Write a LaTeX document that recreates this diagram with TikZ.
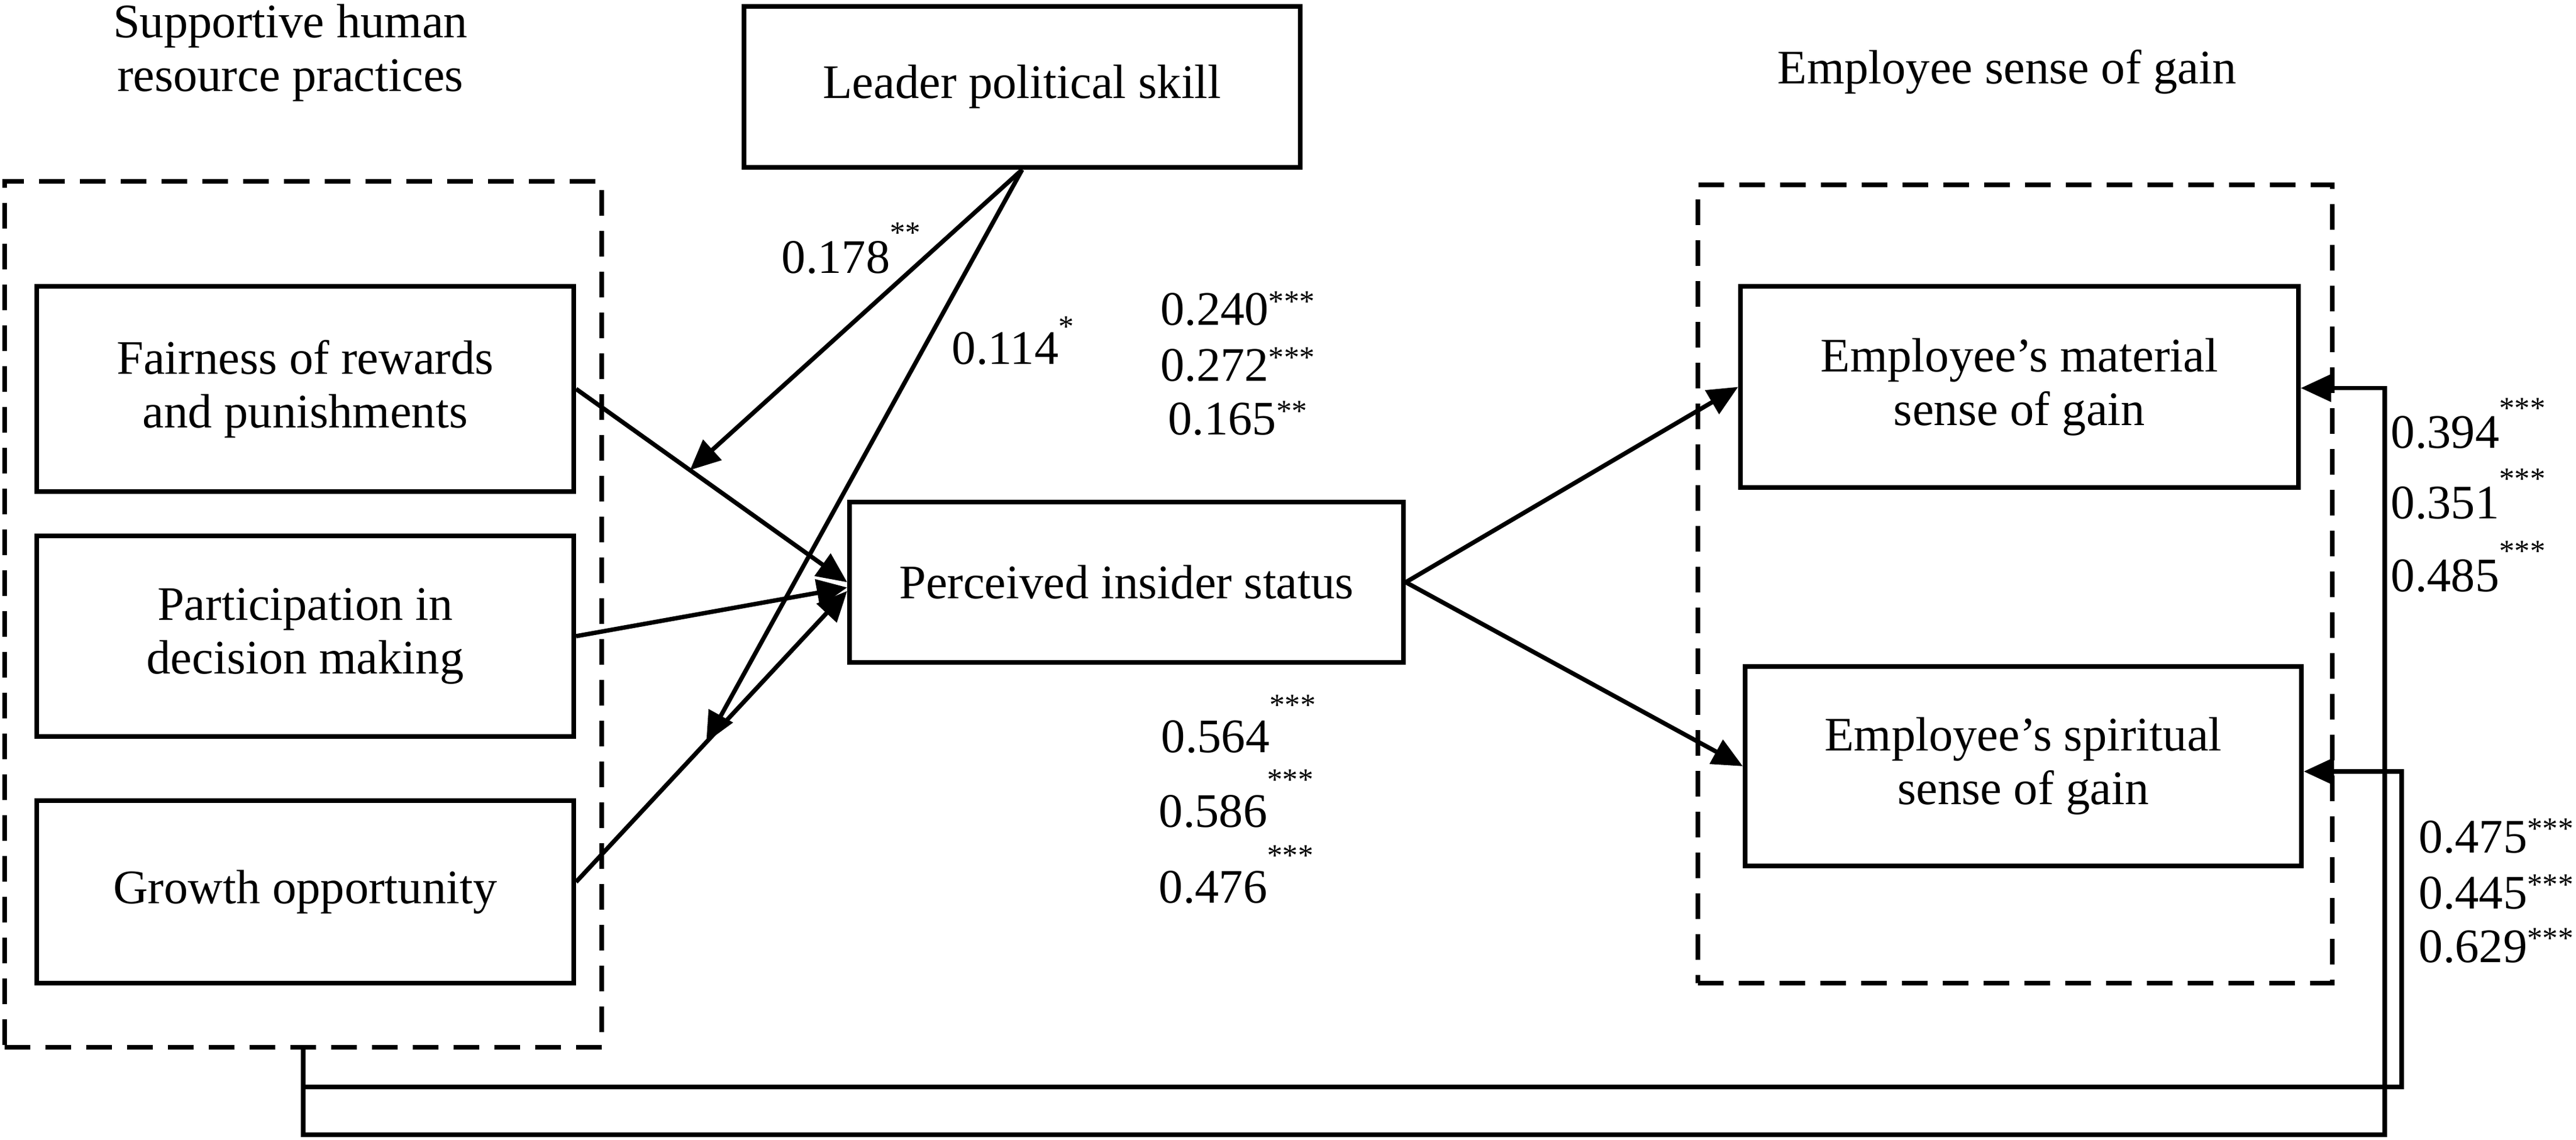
\documentclass[tikz,border=0pt]{standalone}
\usepackage{fontspec}
\setmainfont{Liberation Serif}
\usetikzlibrary{arrows.meta}
\newcommand{\sig}[2]{\raisebox{#1}{\fontsize{15pt}{15pt}\selectfont #2}}
\begin{document}
\begin{tikzpicture}[>={Triangle[length=5.2mm,width=4.6mm]},
  font=\fontsize{23.5pt}{26.1pt}\selectfont,
  box/.style={draw,line width=.8mm,align=center},
  grp/.style={draw,line width=.85mm,dash pattern=on 4.4mm off 2.6mm},
  conn/.style={line width=.75mm},
  lab/.style={anchor=base west,inner sep=0pt}]
\useasboundingbox (0,0) rectangle (44.18,-19.55);
% groups
\node[grp,minimum width=10.24cm,minimum height=14.85cm] (hrp) at (5.20,-10.535) {};
\node[grp,minimum width=10.88cm,minimum height=13.69cm] (gain) at (34.56,-10.015) {};
\node[align=center] (thrp) at (4.98,-0.905) {Supportive human\\resource practices};
\node[anchor=base] (tgain) at (34.42,-1.44) {Employee sense of gain};
% variables
\node[box,minimum width=9.54cm,minimum height=2.76cm] (lps) at (17.53,-1.49) {Leader political skill};
\node[box,minimum width=9.21cm,minimum height=3.52cm] (frp) at (5.235,-6.67) {Fairness of rewards\\and punishments};
\node[box,minimum width=9.21cm,minimum height=3.44cm] (pdm) at (5.235,-10.91) {Participation in\\decision making};
\node[box,minimum width=9.21cm,minimum height=3.13cm] (gro) at (5.235,-15.295) {Growth opportunity};
\node[box,minimum width=9.5cm,minimum height=2.75cm] (pis) at (19.32,-9.985) {Perceived insider status};
\node[box,minimum width=9.57cm,minimum height=3.45cm] (mat) at (34.635,-6.635) {Employee’s material\\sense of gain};
\node[box,minimum width=9.54cm,minimum height=3.42cm] (spi) at (34.70,-13.14) {Employee’s spiritual\\sense of gain};
% paths
\draw[->,conn] (frp.east) -- (pis.west);
\draw[->,conn] (pdm.east) -- ([yshift=-0.09cm]pis.west);
\draw[->,conn] ([yshift=0.17cm]gro.east) -- ([yshift=-0.15cm]pis.west);
\path (frp.east) -- (pis.west) coordinate[pos=0.42] (m1);
\path ([yshift=0.17cm]gro.east) -- ([yshift=-0.15cm]pis.west) coordinate[pos=0.48] (m2);
\draw[->,conn] (lps.south) -- (m1);
\draw[->,conn] (lps.south) -- (m2);
\draw[->,conn] (pis.east) -- (mat.west);
\draw[->,conn] (pis.east) -- (spi.west);
\coordinate (fo) at (40.90,-19.46);
\coordinate (fi) at (41.19,-18.64);
\draw[->,conn] (hrp.south) |- (fo) |- ([yshift=-0.02cm]mat.east);
\draw[->,conn] (hrp.south) |- (fi) |- ([yshift=-0.09cm]spi.east);
% coefficients
\node[lab] (l178) at (13.40,-4.69) {0.178\sig{0.64em}{**}};
\node[lab] (l114) at (16.32,-6.25) {0.114\sig{0.57em}{*}};
\node[anchor=base] (l240) at (21.225,-5.58) {0.240\sig{0.29em}{***}};
\node[anchor=base] (l272) at (21.225,-6.54) {0.272\sig{0.29em}{***}};
\node[anchor=base] (l165) at (21.225,-7.46) {0.165\sig{0.29em}{**}};
\node[lab] (l564) at (19.91,-12.90) {0.564\sig{0.77em}{***}};
\node[lab] (l586) at (19.87,-14.18) {0.586\sig{0.77em}{***}};
\node[lab] (l476) at (19.87,-15.48) {0.476\sig{0.77em}{***}};
\node[lab] (l394) at (41.00,-7.69) {0.394\sig{0.62em}{***}};
\node[lab] (l351) at (41.00,-8.90) {0.351\sig{0.62em}{***}};
\node[lab] (l485) at (41.00,-10.14) {0.485\sig{0.62em}{***}};
\node[lab] (l475) at (41.48,-14.62) {0.475\sig{0.29em}{***}};
\node[lab] (l445) at (41.48,-15.58) {0.445\sig{0.29em}{***}};
\node[lab] (l629) at (41.48,-16.50) {0.629\sig{0.29em}{***}};
\end{tikzpicture}
\end{document}
